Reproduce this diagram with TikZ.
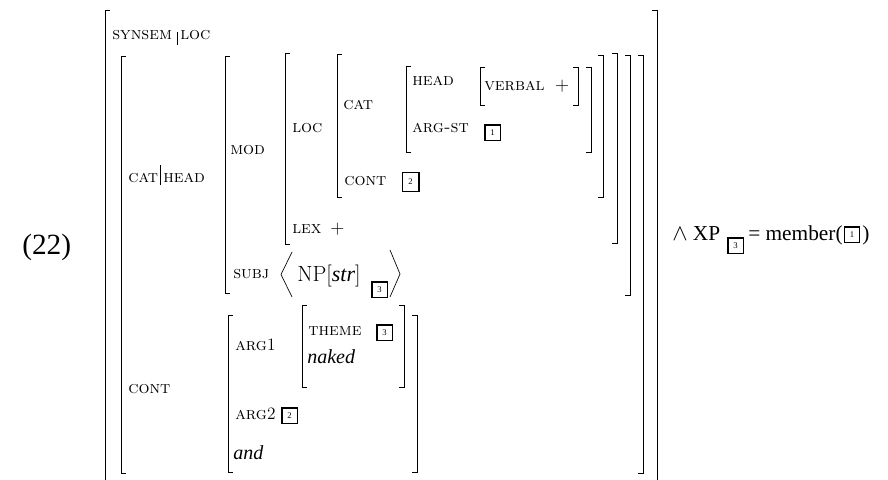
\documentclass[tikz,border=0pt]{standalone}
\usepackage{fontspec}
\newfontfamily\tms{Liberation Serif}
\newcommand\LBr[3]{\draw[brk] (#1+5,#2)--(#1,#2)--(#1,#3)--(#1+5,#3);}
\newcommand\RBr[3]{\draw[brk] (#1-5,#2)--(#1,#2)--(#1,#3)--(#1-5,#3);}
\tikzset{
  brk/.style={line width=0.7pt},
  lab/.style={anchor=base west, inner sep=0pt, font=\fontsize{13}{14}\selectfont\scshape},
  itl/.style={anchor=base west, inner sep=0pt, font=\fontsize{15}{16}\selectfont\tms\itshape},
  rom/.style={anchor=base west, inner sep=0pt, font=\fontsize{16}{18}\selectfont\tms},
  tagbox/.style={draw, line width=1pt, inner sep=0pt, minimum width=11.5pt, minimum height=11.5pt, font=\fontsize{6.5}{7}\selectfont\tms},
}
\begin{document}
\begin{tikzpicture}[x=0.75pt,y=-0.75pt]
\useasboundingbox (0,0) rectangle (888,479);
% brackets
\draw[brk] (110,10)--(105,10)--(105,480);
\draw[brk] (652,10)--(657,10)--(657,480);
\LBr{121}{56}{473} \RBr{643}{55}{473}
\LBr{225}{56}{293} \RBr{630}{55}{295}
\LBr{285}{53}{244} \RBr{617}{53}{243}
\LBr{337}{54}{197} \RBr{603}{55}{197}
\LBr{406}{66}{152} \RBr{591}{67}{152}
\LBr{480}{67}{105} \RBr{578}{67}{105}
\LBr{228}{315}{472} \RBr{417}{315}{472}
\LBr{302}{305}{387} \RBr{404}{305}{387}
% path separators
\draw[brk] (177,32)--(177,45);
\draw[brk] (160,165)--(160,185);
% labels
\node[lab] (synsem) at (112,39) {synsem};
\node[lab] (loc0) at (180,39) {loc};
\node[lab] (cat) at (343,109) {cat};
\node[lab] (loc) at (292,132) {loc};
\node[lab] (mod) at (230,154) {mod};
\node[lab] (head) at (412,85) {head};
\node[lab] (verbal) at (484,90) {verbal\hspace{0.6em}+};
\node[lab] (argst) at (412,132) {arg-st};
\node[tagbox] (b1) at (492.5,132.5) {1};
\node[lab] (cont1) at (344,185) {cont};
\node[tagbox, minimum width=12.5pt, minimum height=14pt] (b2a) at (410.5,182) {2};
\node[lab] (lex) at (292,233) {lex\hspace{0.5em}+};
\node[lab] (cathead) at (128,182) {cat};
\node[lab] (cathead2) at (163,182) {head};
\node[lab] (subj) at (233,278) {subj};
\draw[line width=0.5pt] (292,252)--(281,274.5)--(292,297);
\node[anchor=base west, inner sep=0pt, font=\fontsize{16.5}{18}\selectfont] (np) at (297,281) {NP[\textit{\tms str}]};
\node[tagbox] (b3a) at (379.5,289.5) {3};
\draw[line width=0.5pt] (390,250)--(400,274)--(390,297);
\node[lab] (cont2) at (128,393) {cont};
\node[lab] (arg1) at (235,350) {arg\upshape 1};
\node[lab] (theme) at (308,335) {theme};
\node[tagbox] (b3b) at (384.5,332.5) {3};
\node[itl] (naked) at (307,363) {naked};
\node[lab] (arg2) at (235,419) {arg\upshape 2};
\node[tagbox] (b2b) at (289.5,415.5) {2};
\node[itl] (and) at (233,459) {and};
% right side formula
\node[rom] (xp) at (672,240) {$\wedge$ XP};
\node[tagbox] (b3c) at (735.5,245.5) {3};
\node[rom] (member) at (748,240) {= member(};
\node[tagbox] (b1c) at (852,234.5) {1};
\node[rom] (close) at (862,240) {)};
% example number
\node[anchor=base west, inner sep=0pt, font=\fontsize{22}{24}\selectfont\tms] (num) at (22,254) {(22)};
\end{tikzpicture}
\end{document}
